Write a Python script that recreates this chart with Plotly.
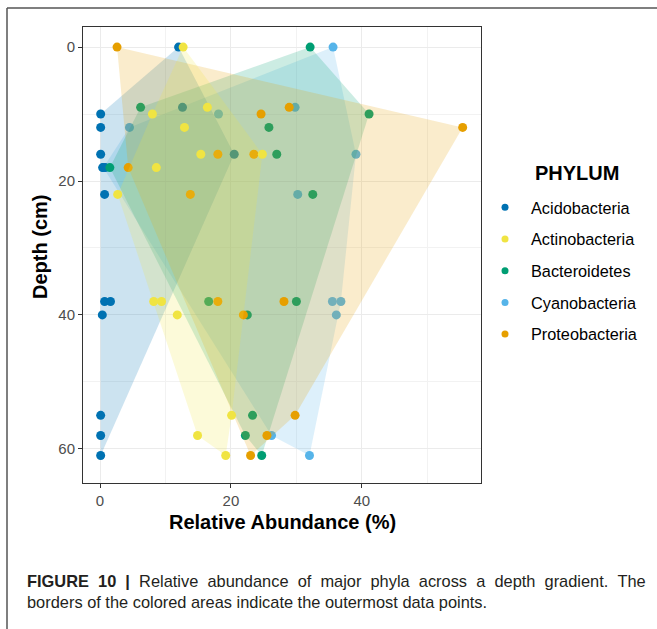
import plotly.graph_objects as go

# ---- data (relative abundance %, depth cm) ----
phyla = ["Acidobacteria", "Actinobacteria", "Bacteroidetes", "Cyanobacteria", "Proteobacteria"]
colors = ["#0072B2", "#F0E442", "#009E73", "#56B4E9", "#E69F00"]

acido_x = [12.0, 12.6, 0.1, 0.1, 0.1, 20.5, 0.4, 0.8, 0.7, 0.7, 1.6, 0.35, 0.1, 0.1, 0.1]
acido_y = [0, 9, 10, 12, 16, 16, 18, 18, 22, 38, 38, 40, 55, 58, 61]

actino_x = [12.7, 16.4, 8.0, 12.9, 15.4, 24.8, 8.6, 2.7, 8.2, 9.4, 11.8, 20.1, 14.9, 19.2]
actino_y = [0, 9, 10, 12, 16, 16, 18, 22, 38, 38, 40, 55, 58, 61]

bactero_x = [32.1, 6.2, 41.1, 25.8, 27.0, 1.5, 32.5, 16.6, 30.0, 22.5, 23.3, 22.2, 24.7]
bactero_y = [0, 9, 10, 12, 16, 18, 22, 38, 38, 40, 55, 58, 61]

cyano_x = [35.6, 29.8, 18.1, 4.5, 39.1, 0.5, 30.2, 35.5, 36.8, 36.1, 26.2, 32.0]
cyano_y = [0, 9, 10, 12, 16, 18, 22, 38, 38, 40, 58, 61]

proteo_x = [2.6, 28.9, 24.6, 55.4, 18.0, 23.5, 4.3, 13.8, 18.0, 28.1, 21.9, 29.8, 25.5, 23.0]
proteo_y = [0, 9, 10, 12, 16, 16, 18, 22, 38, 38, 40, 55, 58, 61]

series_x = [acido_x, actino_x, bactero_x, cyano_x, proteo_x]
series_y = [acido_y, actino_y, bactero_y, cyano_y, proteo_y]

# layer order (hull + points drawn group by group)
draw_order = [3, 0, 2, 4, 1]

x_ticks = [0, 20, 40]
y_ticks = [0, 20, 40, 60]


def convex_hull(xs, ys):
    pts = sorted(set(zip(xs, ys)))
    if len(pts) <= 2:
        return pts

    def cross(o, a, b):
        return (a[0] - o[0]) * (b[1] - o[1]) - (a[1] - o[1]) * (b[0] - o[0])

    lower, upper = [], []
    for p in pts:
        while len(lower) >= 2 and cross(lower[-2], lower[-1], p) <= 0:
            lower.pop()
        lower.append(p)
    for p in reversed(pts):
        while len(upper) >= 2 and cross(upper[-2], upper[-1], p) <= 0:
            upper.pop()
        upper.append(p)
    return lower[:-1] + upper[:-1]


def rgba(hexc, a):
    h = hexc.lstrip("#")
    r, g, b = int(h[0:2], 16), int(h[2:4], 16), int(h[4:6], 16)
    return f"rgba({r},{g},{b},{a})"


FONT = "Liberation Sans, Arial, Helvetica, sans-serif"

fig = go.Figure()
for i in draw_order:
    name, col, xs, ys = phyla[i], colors[i], series_x[i], series_y[i]
    hull = convex_hull(xs, ys)
    hx = [p[0] for p in hull] + [hull[0][0]]
    hy = [p[1] for p in hull] + [hull[0][1]]
    fig.add_trace(go.Scatter(x=hx, y=hy, mode="lines", fill="toself",
                             fillcolor=rgba(col, 0.2), line=dict(width=0, color=rgba(col, 0)),
                             hoverinfo="skip", showlegend=False))
    fig.add_trace(go.Scatter(x=xs, y=ys, mode="markers", name=name,
                             marker=dict(size=9, color=col, line=dict(width=0)),
                             showlegend=False))

for i, (name, col) in enumerate(zip(phyla, colors)):
    fig.add_trace(go.Scatter(x=[None], y=[None], mode="markers", name=name,
                             marker=dict(size=7, color=col), legendgroup=f"g{i}",
                             showlegend=True))

axis_common = dict(
    showgrid=True, gridcolor="#EBEBEB", gridwidth=1.1,
    zeroline=False, showline=True, mirror=True, linecolor="#333333", linewidth=1,
    ticks="outside", ticklen=4, tickcolor="#333333", tickwidth=1,
    tickfont=dict(family=FONT, size=15, color="#4D4D4D"),
    minor=dict(showgrid=True, gridcolor="#F2F2F2", gridwidth=0.8, dtick=10, tick0=0),
)

fig.update_layout(
    width=657, height=629,
    margin=dict(l=83, r=176, t=27, b=146),
    paper_bgcolor="white", plot_bgcolor="white",
    font=dict(family=FONT, color="#000000"),
    xaxis=dict(range=[-2.6, 58.2], tickmode="array", tickvals=x_ticks,
               ticktext=[str(v) for v in x_ticks], **axis_common),
    yaxis=dict(range=[65.1, -3.0], tickmode="array", tickvals=y_ticks,
               ticktext=[str(v) for v in y_ticks], **axis_common),
    legend=dict(x=0.995, y=0.642, xanchor="left", yanchor="top",
                font=dict(family=FONT, size=16.3, color="#000000"),
                itemwidth=42,
                traceorder="grouped", tracegroupgap=7.5, bgcolor="rgba(0,0,0,0)"),
    showlegend=True,
)

# legend title
fig.add_annotation(text="<b>PHYLUM</b>", xref="paper", yref="paper",
                   x=(577 - 83) / 398, y=(483 - 173) / 456, xanchor="center", yanchor="middle",
                   showarrow=False, font=dict(family=FONT, size=20, color="#000000"))

# axis titles
fig.add_annotation(text="<b>Relative Abundance (%)</b>", xref="paper", yref="paper",
                   x=0.5, y=(483 - 522) / 456, xanchor="center", yanchor="middle",
                   showarrow=False, font=dict(family=FONT, size=20, color="#000000"))
fig.add_annotation(text="<b>Depth (cm)</b>", xref="paper", yref="paper",
                   x=(40 - 83) / 398, y=(483 - 247) / 456, xanchor="center", yanchor="middle",
                   textangle=-90, showarrow=False, font=dict(family=FONT, size=20, color="#000000"))

# caption (first line justified by widened word gaps)
line1_words = ["<b>FIGURE", "10", "|</b>", "Relative", "abundance", "of", "major", "phyla",
               "across", "a", "depth", "gradient.", "The"]
line1 = " &nbsp;".join(line1_words)
line2 = "borders of the colored areas indicate the outermost data points."
fig.add_annotation(text=line1, xref="paper", yref="paper", x=(25 - 83) / 398, y=(483 - 581) / 456,
                   xanchor="left", yanchor="middle", showarrow=False,
                   font=dict(family=FONT, size=16.4, color="#231F20"))
fig.add_annotation(text=line2, xref="paper", yref="paper", x=(25 - 83) / 398, y=(483 - 602) / 456,
                   xanchor="left", yanchor="middle", showarrow=False,
                   font=dict(family=FONT, size=16.4, color="#231F20"))

# outer figure frame (top and left edges)
fig.add_shape(type="line", xref="paper", yref="paper",
              x0=(7 - 83) / 398, x1=(665 - 83) / 398, y0=(483 - 8) / 456, y1=(483 - 8) / 456,
              line=dict(color="#555555", width=1.5))
fig.add_shape(type="line", xref="paper", yref="paper",
              x0=(7 - 83) / 398, x1=(7 - 83) / 398, y0=(483 - 8) / 456, y1=(483 - 640) / 456,
              line=dict(color="#555555", width=1.5))

fig.write_html("out.html")
